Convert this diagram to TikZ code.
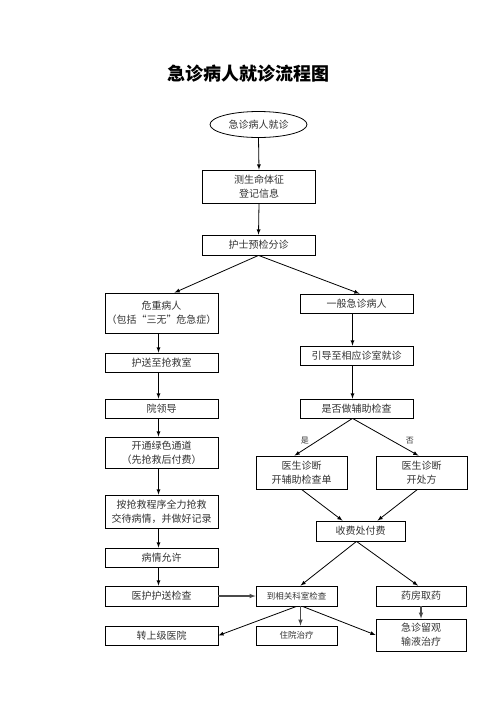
\documentclass[tikz,border=0pt]{standalone}
\usepackage{fontspec}
\setmainfont{Noto Sans CJK SC}
\usetikzlibrary{arrows.meta,positioning,shapes.geometric}
\definecolor{txtgrey}{HTML}{333333}
\definecolor{linegrey}{HTML}{4A4A4A}

\begin{document}
\begin{tikzpicture}[
x=1pt, y=-1pt,
flowbox/.style={rectangle, draw, line width=0.8pt, minimum width=113pt, minimum height=19pt, inner sep=0pt, align=center, text=txtgrey, font=\fontsize{10}{14}\selectfont},
startoval/.style={ellipse, draw, line width=0.8pt, minimum width=97pt, minimum height=26pt, inner sep=0pt, text=txtgrey, font=\fontsize{10}{14}\selectfont},
arr/.style={->, >=latex, line width=0.8pt},
greyarr/.style={->, >=latex, line width=1.1pt, linegrey},
yesno/.style={font=\fontsize{8}{10}\selectfont, text=txtgrey}
]
\useasboundingbox (0,0) rectangle (496,702);

% --- Title ---
\node (title) at (248,74) {\fontsize{18}{22}\selectfont\bfseries 急诊病人就诊流程图};

% --- Intake ---
\node (start) [startoval] at (258.5,124.5) {急诊病人就诊};
\node (vitals) [flowbox, minimum height=33pt] at (259,186.5) {测生命体征\\登记信息};
\node (triage) [flowbox, minimum height=20pt] at (258.5,245) {护士预检分诊};

% --- Critical branch ---
\node (crit) [flowbox, minimum height=40pt] at (161.5,313) {危重病人\\（包括“三无”危急症）};
\node (escort) [flowbox] at (161.5,362.5) {护送至抢救室};
\node (leader) [flowbox] at (161.5,408.5) {院领导};
\node (green) [flowbox, minimum height=31pt] at (161.5,452.5) {开通绿色通道\\（先抢救后付费）};
\node (rescue) [flowbox, minimum height=33pt] at (161.5,511.5) {按抢救程序全力抢救\\交待病情，并做好记录};
\node (allow) [flowbox] at (161.5,557.5) {病情允许};
\node (escortchk) [flowbox, minimum height=20pt] at (161.5,596) {医护护送检查};
\node (transfer) [flowbox] at (161.5,635.5) {转上级医院};

% --- General branch ---
\node (general) [flowbox] at (356.5,303.5) {一般急诊病人};
\node (guide) [flowbox] at (356.5,355.5) {引导至相应诊室就诊};
\node (auxq) [flowbox] at (356.5,408.5) {是否做辅助检查};
\node (diagaux) [flowbox, minimum width=91pt, minimum height=33pt] at (301.5,472.5) {医生诊断\\开辅助检查单};
\node (diagrx) [flowbox, minimum width=91pt, minimum height=33pt] at (421.5,472.5) {医生诊断\\开处方};
\node (pay) [flowbox, minimum width=89pt, minimum height=20pt] at (360.5,531) {收费处付费};
\node (dept) [flowbox, minimum width=81pt, minimum height=20pt, font=\fontsize{8.5}{10}\selectfont] at (296.5,596) {到相关科室检查};
\node (pharm) [flowbox, minimum width=90pt, minimum height=20pt] at (421,596) {药房取药};
\node (inpat) [flowbox, minimum width=81pt, font=\fontsize{8.5}{10}\selectfont] at (296.5,635.5) {住院治疗};
\node (observe) [flowbox, minimum width=90pt, minimum height=32pt] at (421,635) {急诊留观\\输液治疗};

% --- Intake flow ---
\draw [arr] (start.south) -- (vitals.north);
\draw [arr] (vitals.south) -- (triage.north);
\draw [arr] (triage.south) -- ([xshift=13pt]crit.north);
\draw [arr] (triage.south) -- ([xshift=3pt]general.north);

% --- Critical flow ---
\draw [arr] ([xshift=-3pt]crit.south) -- ([xshift=-3pt]escort.north);
\draw [arr] ([xshift=-3pt]escort.south) -- ([xshift=-3pt]leader.north);
\draw [arr] ([xshift=-3pt]leader.south) -- ([xshift=-3pt]green.north);
\draw [arr] ([xshift=-3pt]green.south) -- ([xshift=-3pt]rescue.north);
\draw [arr] ([xshift=-3pt]rescue.south) -- ([xshift=-3pt]allow.north);
\draw [arr] ([xshift=-3pt]allow.south) -- ([xshift=-3pt]escortchk.north);
\draw [greyarr] (escortchk.east) -- (dept.west);

% --- General flow ---
\draw [arr] ([xshift=-4pt]general.south) -- ([xshift=-4pt]guide.north);
\draw [arr] ([xshift=-4pt]guide.south) -- ([xshift=-4pt]auxq.north);
\draw [arr] ([xshift=-4pt]auxq.south) -- node [yesno, left=5pt, pos=0.6] {是} ([xshift=-7pt]diagaux.north);
\draw [arr] ([xshift=-4pt]auxq.south) -- node [yesno, right=10pt, pos=0.6] {否} ([xshift=-3pt]diagrx.north);
\draw [arr] (diagaux.south) -- ([xshift=-18pt]pay.north);
\draw [arr] ([xshift=-4pt]diagrx.south) -- ([xshift=17pt]pay.north);
\draw [arr] ([xshift=-4pt]pay.south) -- ([xshift=4pt]dept.north);
\draw [arr] ([xshift=-4pt]pay.south) -- ([xshift=-3pt]pharm.north);
\draw [greyarr] (pharm.south) -- (observe.north);

% --- Outcomes ---
\draw [arr] (dept.south) -- (transfer.east);
\draw [greyarr] ([xshift=4pt]dept.south) -- ([xshift=4pt]inpat.north);
\draw [arr] ([xshift=6pt]dept.south) -- (observe.west);

\end{tikzpicture}
\end{document}
